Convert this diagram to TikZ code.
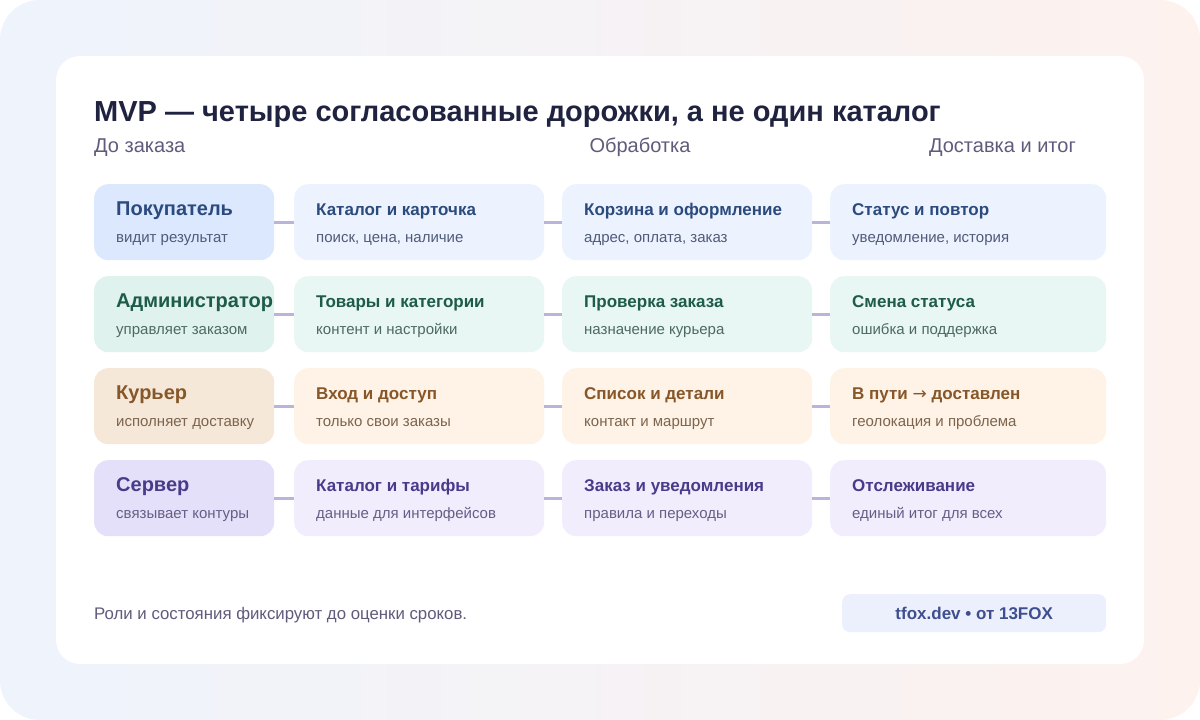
\documentclass[tikz,border=0pt]{standalone}
\usepackage{fontspec}
\setmainfont{Liberation Sans}
\newfontfamily\arrowfont{DejaVu Sans}
\usetikzlibrary{positioning}

\definecolor{ink}{HTML}{1F2340}
\definecolor{muted}{HTML}{5F5B7C}
\definecolor{lanecol}{HTML}{BCB3DA}
\definecolor{bgleft}{HTML}{EEF3FC}
\definecolor{bgright}{HTML}{FDF2EE}
\definecolor{badgefill}{HTML}{ECF0FD}
\definecolor{badgeink}{HTML}{3F4E8E}
% lanes
\definecolor{bluerole}{HTML}{DCE8FD}
\definecolor{bluestep}{HTML}{EDF3FE}
\definecolor{bluehd}{HTML}{2B4A7E}
\definecolor{bluesub}{HTML}{4F5B79}
\definecolor{greenrole}{HTML}{E0F2EE}
\definecolor{greenstep}{HTML}{E8F7F3}
\definecolor{greenhd}{HTML}{1E5B48}
\definecolor{greensub}{HTML}{4D6A60}
\definecolor{orangerole}{HTML}{F5E8D8}
\definecolor{orangestep}{HTML}{FEF3E6}
\definecolor{orangehd}{HTML}{875629}
\definecolor{orangesub}{HTML}{7C644E}
\definecolor{violetrole}{HTML}{E5E0F9}
\definecolor{violetstep}{HTML}{F1EDFD}
\definecolor{violethd}{HTML}{483C8A}
\definecolor{violetsub}{HTML}{665E86}

\tikzset{
  box/.style={rectangle, rounded corners=14pt, minimum height=76pt, inner sep=0pt, anchor=north west},
  rolebox/.style={box, minimum width=180pt},
  stepbox/.style={box, minimum width=250pt},
  endbox/.style={box, minimum width=276pt},
  hd/.style={anchor=base west, inner sep=0pt, font=\fontsize{17}{20}\selectfont\bfseries},
  rolehd/.style={hd, font=\fontsize{20}{24}\selectfont\bfseries},
  sub/.style={anchor=base west, inner sep=0pt, font=\fontsize{15}{18}\selectfont},
  colhd/.style={inner sep=0pt, font=\fontsize{20}{24}\selectfont, text=muted},
  lane/.style={draw=lanecol, line width=3pt},
}

\begin{document}
\begin{tikzpicture}[x=1pt,y=-1pt]

        \useasboundingbox (0,0) rectangle (1200,720);
        \fill[white] (0,0) rectangle (1200,720);
        \shade[left color=bgleft, right color=bgright, rounded corners=40pt] (0,0) rectangle (1200,720);
        \fill[white, rounded corners=24pt] (56,56) rectangle (1144,664);

        \node[anchor=base west, inner sep=0pt, text=ink, font=\fontsize{29}{35}\selectfont\bfseries] (title) at (94,121)
          {MVP — четыре согласованные дорожки, а не один каталог};

        \node[colhd, anchor=base west] (pre)  at (94,152)  {До заказа};
        \node[colhd, anchor=base]      (proc) at (640,152) {Обработка};
        \node[colhd, anchor=base east] (post) at (1076,152) {Доставка и итог};

        % buyer
        \begin{scope}[every node/.append style={text=bluehd}]
          \node[rolebox, fill=bluerole] (b0) at (94,184)  {};
          \node[stepbox, fill=bluestep] (b1) at (294,184) {};
          \node[stepbox, fill=bluestep] (b2) at (562,184) {};
          \node[endbox,  fill=bluestep] (b3) at (830,184) {};
          \node[rolehd] (b0t) at ([xshift=22pt,yshift=7pt]b0.west) {Покупатель};
          \node[hd]     (b1t) at ([xshift=22pt,yshift=7pt]b1.west) {Каталог и карточка};
          \node[hd]     (b2t) at ([xshift=22pt,yshift=7pt]b2.west) {Корзина и оформление};
          \node[hd]     (b3t) at ([xshift=22pt,yshift=7pt]b3.west) {Статус и повтор};
          \node[sub, text=bluesub] (b0s) at ([xshift=22pt,yshift=-20pt]b0.west) {видит результат};
          \node[sub, text=bluesub] (b1s) at ([xshift=22pt,yshift=-20pt]b1.west) {поиск, цена, наличие};
          \node[sub, text=bluesub] (b2s) at ([xshift=22pt,yshift=-20pt]b2.west) {адрес, оплата, заказ};
          \node[sub, text=bluesub] (b3s) at ([xshift=22pt,yshift=-20pt]b3.west) {уведомление, история};
        \end{scope}

        % admin
        \begin{scope}[every node/.append style={text=greenhd}]
          \node[rolebox, fill=greenrole] (a0) at (94,276)  {};
          \node[stepbox, fill=greenstep] (a1) at (294,276) {};
          \node[stepbox, fill=greenstep] (a2) at (562,276) {};
          \node[endbox,  fill=greenstep] (a3) at (830,276) {};
          \node[rolehd] (a0t) at ([xshift=22pt,yshift=7pt]a0.west) {Администратор};
          \node[hd]     (a1t) at ([xshift=22pt,yshift=7pt]a1.west) {Товары и категории};
          \node[hd]     (a2t) at ([xshift=22pt,yshift=7pt]a2.west) {Проверка заказа};
          \node[hd]     (a3t) at ([xshift=22pt,yshift=7pt]a3.west) {Смена статуса};
          \node[sub, text=greensub] (a0s) at ([xshift=22pt,yshift=-20pt]a0.west) {управляет заказом};
          \node[sub, text=greensub] (a1s) at ([xshift=22pt,yshift=-20pt]a1.west) {контент и настройки};
          \node[sub, text=greensub] (a2s) at ([xshift=22pt,yshift=-20pt]a2.west) {назначение курьера};
          \node[sub, text=greensub] (a3s) at ([xshift=22pt,yshift=-20pt]a3.west) {ошибка и поддержка};
        \end{scope}

        % courier
        \begin{scope}[every node/.append style={text=orangehd}]
          \node[rolebox, fill=orangerole] (c0) at (94,368)  {};
          \node[stepbox, fill=orangestep] (c1) at (294,368) {};
          \node[stepbox, fill=orangestep] (c2) at (562,368) {};
          \node[endbox,  fill=orangestep] (c3) at (830,368) {};
          \node[rolehd] (c0t) at ([xshift=22pt,yshift=7pt]c0.west) {Курьер};
          \node[hd]     (c1t) at ([xshift=22pt,yshift=7pt]c1.west) {Вход и доступ};
          \node[hd]     (c2t) at ([xshift=22pt,yshift=7pt]c2.west) {Список и детали};
          \node[hd]     (c3t) at ([xshift=22pt,yshift=7pt]c3.west) {В пути {\arrowfont\mdseries →} доставлен};
          \node[sub, text=orangesub] (c0s) at ([xshift=22pt,yshift=-20pt]c0.west) {исполняет доставку};
          \node[sub, text=orangesub] (c1s) at ([xshift=22pt,yshift=-20pt]c1.west) {только свои заказы};
          \node[sub, text=orangesub] (c2s) at ([xshift=22pt,yshift=-20pt]c2.west) {контакт и маршрут};
          \node[sub, text=orangesub] (c3s) at ([xshift=22pt,yshift=-20pt]c3.west) {геолокация и проблема};
        \end{scope}

        % server
        \begin{scope}[every node/.append style={text=violethd}]
          \node[rolebox, fill=violetrole] (s0) at (94,460)  {};
          \node[stepbox, fill=violetstep] (s1) at (294,460) {};
          \node[stepbox, fill=violetstep] (s2) at (562,460) {};
          \node[endbox,  fill=violetstep] (s3) at (830,460) {};
          \node[rolehd] (s0t) at ([xshift=22pt,yshift=7pt]s0.west) {Сервер};
          \node[hd]     (s1t) at ([xshift=22pt,yshift=7pt]s1.west) {Каталог и тарифы};
          \node[hd]     (s2t) at ([xshift=22pt,yshift=7pt]s2.west) {Заказ и уведомления};
          \node[hd]     (s3t) at ([xshift=22pt,yshift=7pt]s3.west) {Отслеживание};
          \node[sub, text=violetsub] (s0s) at ([xshift=22pt,yshift=-20pt]s0.west) {связывает контуры};
          \node[sub, text=violetsub] (s1s) at ([xshift=22pt,yshift=-20pt]s1.west) {данные для интерфейсов};
          \node[sub, text=violetsub] (s2s) at ([xshift=22pt,yshift=-20pt]s2.west) {правила и переходы};
          \node[sub, text=violetsub] (s3s) at ([xshift=22pt,yshift=-20pt]s3.west) {единый итог для всех};
        \end{scope}

        \draw[lane] (b0.east) -- (b1.west) (b1.east) -- (b2.west) (b2.east) -- (b3.west);
        \draw[lane] (a0.east) -- (a1.west) (a1.east) -- (a2.west) (a2.east) -- (a3.west);
        \draw[lane] (c0.east) -- (c1.west) (c1.east) -- (c2.west) (c2.east) -- (c3.west);
        \draw[lane] (s0.east) -- (s1.west) (s1.east) -- (s2.west) (s2.east) -- (s3.west);

        \node[anchor=base west, inner sep=0pt, text=muted, font=\fontsize{16.8}{20}\selectfont] (note) at (94,619)
          {Роли и состояния фиксируют до оценки сроков.};
        \node[box, rounded corners=8pt, fill=badgefill, minimum width=264pt, minimum height=38pt,
              text=badgeink, font=\fontsize{17}{20}\selectfont\bfseries] (badge) at (842,594) {tfox.dev • от 13FOX};

      \end{tikzpicture}
\end{document}
